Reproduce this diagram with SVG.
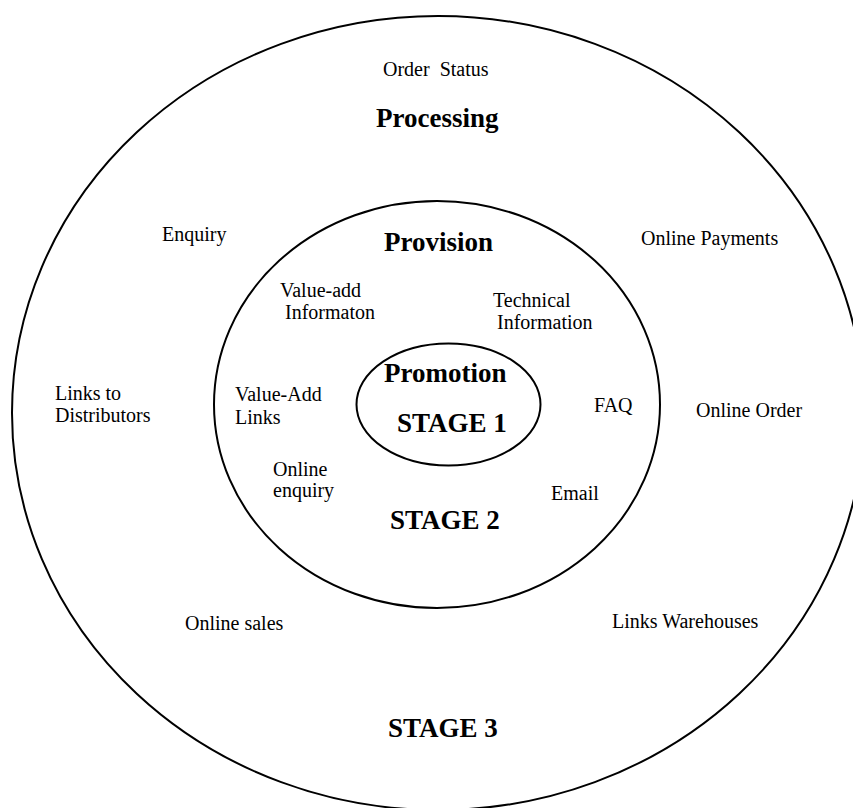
<svg xmlns="http://www.w3.org/2000/svg" width="853" height="808" viewBox="0 0 853 808">
<style>
.ring{fill:none;stroke:#000;stroke-width:2}
.t{font-family:"Liberation Serif","Times New Roman",serif;font-size:20px;fill:#000}
.b{font-family:"Liberation Serif","Times New Roman",serif;font-size:27px;font-weight:bold;fill:#000}
</style>
<rect x="0" y="0" width="853" height="808" fill="#fff"/>
<g id="stage3">
<ellipse class="ring" cx="438" cy="413" rx="426" ry="397"/>
<text class="t" x="383" y="76" xml:space="preserve">Order  Status</text>
<text class="b" x="376" y="127">Processing</text>
<text class="t" x="162" y="241">Enquiry</text>
<text class="t" x="641" y="245">Online Payments</text>
<text class="t" x="55" y="400">Links to</text>
<text class="t" x="55" y="422">Distributors</text>
<text class="t" x="696" y="417">Online Order</text>
<text class="t" x="185" y="630">Online sales</text>
<text class="t" x="612" y="628">Links Warehouses</text>
<text class="b" x="388" y="737">STAGE 3</text>
</g>
<g id="stage2">
<ellipse class="ring" cx="437" cy="404.5" rx="223" ry="203.5"/>
<text class="b" x="384" y="251">Provision</text>
<text class="t" x="280" y="297">Value-add</text>
<text class="t" x="285" y="319">Informaton</text>
<text class="t" x="493" y="307">Technical</text>
<text class="t" x="497" y="329">Information</text>
<text class="t" x="235" y="401">Value-Add</text>
<text class="t" x="235" y="424">Links</text>
<text class="t" x="594" y="412">FAQ</text>
<text class="t" x="273" y="476">Online</text>
<text class="t" x="273" y="497">enquiry</text>
<text class="t" x="551" y="500">Email</text>
<text class="b" x="390" y="529">STAGE 2</text>
</g>
<g id="stage1">
<ellipse class="ring" cx="448.5" cy="404.5" rx="92" ry="61"/>
<text class="b" x="384" y="382">Promotion</text>
<text class="b" x="397" y="432">STAGE 1</text>
</g>
<g id="connectors"/>
</svg>
